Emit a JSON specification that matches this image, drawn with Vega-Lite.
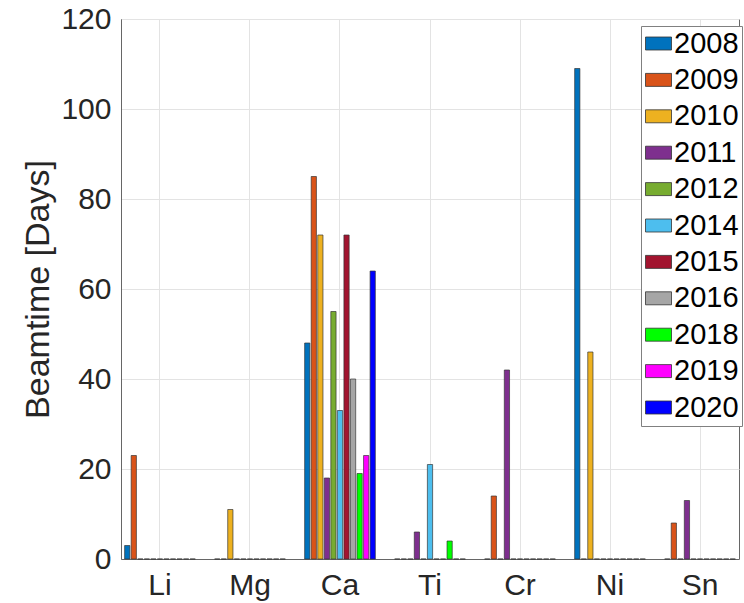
{
  "$schema": "https://vega.github.io/schema/vega-lite/v6.json",
  "width": 618,
  "height": 540,
  "autosize": {"type": "none"},
  "padding": {"left": 121, "top": 19, "right": 5, "bottom": 44},
  "background": "white",
  "data": {
    "values": [
      {"element": "Li", "year": "2008", "days": 3},
      {"element": "Li", "year": "2009", "days": 23},
      {"element": "Li", "year": "2010", "days": 0},
      {"element": "Li", "year": "2011", "days": 0},
      {"element": "Li", "year": "2012", "days": 0},
      {"element": "Li", "year": "2014", "days": 0},
      {"element": "Li", "year": "2015", "days": 0},
      {"element": "Li", "year": "2016", "days": 0},
      {"element": "Li", "year": "2018", "days": 0},
      {"element": "Li", "year": "2019", "days": 0},
      {"element": "Li", "year": "2020", "days": 0},
      {"element": "Mg", "year": "2008", "days": 0},
      {"element": "Mg", "year": "2009", "days": 0},
      {"element": "Mg", "year": "2010", "days": 11},
      {"element": "Mg", "year": "2011", "days": 0},
      {"element": "Mg", "year": "2012", "days": 0},
      {"element": "Mg", "year": "2014", "days": 0},
      {"element": "Mg", "year": "2015", "days": 0},
      {"element": "Mg", "year": "2016", "days": 0},
      {"element": "Mg", "year": "2018", "days": 0},
      {"element": "Mg", "year": "2019", "days": 0},
      {"element": "Mg", "year": "2020", "days": 0},
      {"element": "Ca", "year": "2008", "days": 48},
      {"element": "Ca", "year": "2009", "days": 85},
      {"element": "Ca", "year": "2010", "days": 72},
      {"element": "Ca", "year": "2011", "days": 18},
      {"element": "Ca", "year": "2012", "days": 55},
      {"element": "Ca", "year": "2014", "days": 33},
      {"element": "Ca", "year": "2015", "days": 72},
      {"element": "Ca", "year": "2016", "days": 40},
      {"element": "Ca", "year": "2018", "days": 19},
      {"element": "Ca", "year": "2019", "days": 23},
      {"element": "Ca", "year": "2020", "days": 64},
      {"element": "Ti", "year": "2008", "days": 0},
      {"element": "Ti", "year": "2009", "days": 0},
      {"element": "Ti", "year": "2010", "days": 0},
      {"element": "Ti", "year": "2011", "days": 6},
      {"element": "Ti", "year": "2012", "days": 0},
      {"element": "Ti", "year": "2014", "days": 21},
      {"element": "Ti", "year": "2015", "days": 0},
      {"element": "Ti", "year": "2016", "days": 0},
      {"element": "Ti", "year": "2018", "days": 4},
      {"element": "Ti", "year": "2019", "days": 0},
      {"element": "Ti", "year": "2020", "days": 0},
      {"element": "Cr", "year": "2008", "days": 0},
      {"element": "Cr", "year": "2009", "days": 14},
      {"element": "Cr", "year": "2010", "days": 0},
      {"element": "Cr", "year": "2011", "days": 42},
      {"element": "Cr", "year": "2012", "days": 0},
      {"element": "Cr", "year": "2014", "days": 0},
      {"element": "Cr", "year": "2015", "days": 0},
      {"element": "Cr", "year": "2016", "days": 0},
      {"element": "Cr", "year": "2018", "days": 0},
      {"element": "Cr", "year": "2019", "days": 0},
      {"element": "Cr", "year": "2020", "days": 0},
      {"element": "Ni", "year": "2008", "days": 109},
      {"element": "Ni", "year": "2009", "days": 0},
      {"element": "Ni", "year": "2010", "days": 46},
      {"element": "Ni", "year": "2011", "days": 0},
      {"element": "Ni", "year": "2012", "days": 0},
      {"element": "Ni", "year": "2014", "days": 0},
      {"element": "Ni", "year": "2015", "days": 0},
      {"element": "Ni", "year": "2016", "days": 0},
      {"element": "Ni", "year": "2018", "days": 0},
      {"element": "Ni", "year": "2019", "days": 0},
      {"element": "Ni", "year": "2020", "days": 0},
      {"element": "Sn", "year": "2008", "days": 0},
      {"element": "Sn", "year": "2009", "days": 8},
      {"element": "Sn", "year": "2010", "days": 0},
      {"element": "Sn", "year": "2011", "days": 13},
      {"element": "Sn", "year": "2012", "days": 0},
      {"element": "Sn", "year": "2014", "days": 0},
      {"element": "Sn", "year": "2015", "days": 0},
      {"element": "Sn", "year": "2016", "days": 0},
      {"element": "Sn", "year": "2018", "days": 0},
      {"element": "Sn", "year": "2019", "days": 0},
      {"element": "Sn", "year": "2020", "days": 0}
    ]
  },
  "mark": {"type": "bar", "stroke": "#333333", "strokeWidth": 0.8, "strokeOpacity": 0.85},
  "encoding": {
    "x": {
      "field": "element",
      "type": "nominal",
      "sort": ["Li", "Mg", "Ca", "Ti", "Cr", "Ni", "Sn"],
      "scale": {"paddingInner": 0.2, "paddingOuter": 0.033},
      "axis": {"title": null, "labelAngle": 0, "grid": true, "bandPosition": 0.5, "ticks": false, "labelPadding": 11, "labelFontSize": 30}
    },
    "xOffset": {
      "field": "year",
      "type": "nominal",
      "scale": {"paddingInner": 0.2, "paddingOuter": 0.1}
    },
    "y": {
      "field": "days",
      "type": "quantitative",
      "scale": {"domain": [0, 120], "nice": false},
      "axis": {"values": [0, 20, 40, 60, 80, 100, 120], "title": "Beamtime [Days]", "ticks": false, "labelPadding": 10, "labelFontSize": 30, "titleFontSize": 34, "titlePadding": 5}
    },
    "color": {
      "field": "year",
      "type": "nominal",
      "scale": {
        "domain": ["2008", "2009", "2010", "2011", "2012", "2014", "2015", "2016", "2018", "2019", "2020"],
        "range": ["#0072BD", "#D95319", "#EDB120", "#7E2F8E", "#77AC30", "#4DBEEE", "#A2142F", "#A6A6A6", "#00FF00", "#FF00FF", "#0000FF"]
      },
      "legend": {
        "title": null,
        "orient": "none",
        "legendX": 520,
        "legendY": 7,
        "fillColor": "white",
        "strokeColor": "#808080",
        "padding": 3,
        "cornerRadius": 0,
        "symbolType": "M-1,-0.5H1V0.5H-1Z",
        "symbolSize": 676,
        "symbolStrokeColor": "#333333",
        "symbolStrokeWidth": 0.8,
        "symbolOpacity": 1,
        "labelFontSize": 29,
        "labelColor": "black",
        "labelOffset": 1,
        "rowPadding": 6.4,
        "labelLimit": 200
      }
    }
  },
  "config": {
    "font": "Liberation Sans",
    "view": {"stroke": "#666666", "strokeWidth": 1},
    "axis": {
      "labelFont": "Liberation Sans",
      "titleFont": "Liberation Sans",
      "labelColor": "#262626",
      "titleColor": "#262626",
      "titleFontWeight": "normal",
      "domainColor": "#666666",
      "gridColor": "#e3e3e3",
      "gridWidth": 1
    },
    "legend": {"labelFont": "Liberation Sans"}
  }
}
